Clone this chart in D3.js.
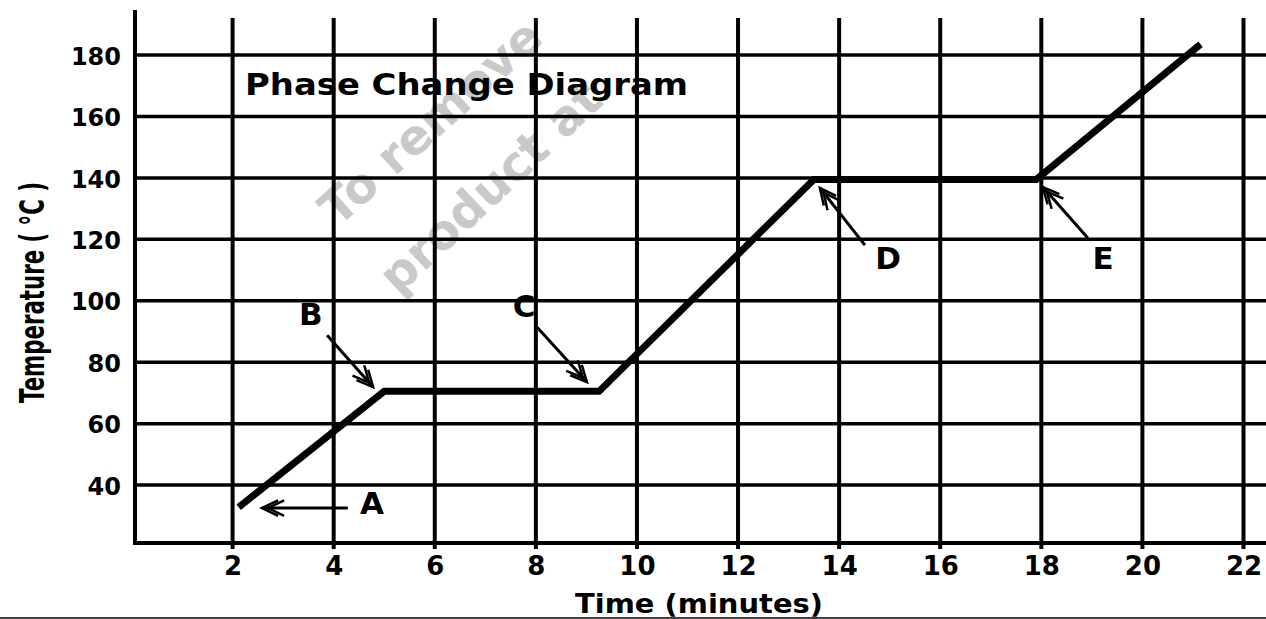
<!DOCTYPE html>
<html><head><meta charset="utf-8">
<script src="https://cdn.jsdelivr.net/npm/d3@7"></script>
<style>body{margin:0;background:#fff}svg{display:block}</style>
</head><body>
<svg id="c" width="1266" height="619"></svg>
<script>
// ---- data ----
const xTicks = [2,4,6,8,10,12,14,16,18,20,22];
const yTicks = [40,60,80,100,120,140,160,180];
const timeMin = [2.12, 5.0, 9.25, 13.5, 17.9, 21.15];
const tempC   = [32.8, 70.5, 70.5, 139.5, 139.5, 183.5];
const labelText = ["A","B","C","D","E"];
const labelX = [4.76, 3.55, 7.77, 14.97, 19.22];
const labelY = [30.6, 92.1, 94.7, 110.3, 110.3];
const arrowFromX = [4.28, 3.87, 8.02, 14.51, 18.92];
const arrowFromY = [32.5, 88.8, 91.45, 118.1, 120.4];
const arrowToX = [2.58, 4.78, 9.01, 13.62, 18.03];
const arrowToY = [32.5, 71.9, 73.55, 136.7, 137.0];
const title = "Phase Change Diagram";
const xTitle = "Time (minutes)";
const yTitle = "Temperature ( °C )";

const svg = d3.select("#c");
const x = d3.scaleLinear().domain([0,22]).range([131.5,1243.5]);
const y = d3.scaleLinear().domain([20,180]).range([546.5,55]);
const F = "'DejaVu Sans', sans-serif";

// watermark
const wm = svg.append("g").attr("fill","#c9c9c9").attr("font-family",F).attr("font-weight","bold").attr("font-size",48);
wm.append("text").attr("transform","translate(338,228) rotate(-42)").text("To remove");
wm.append("text").attr("transform","translate(398,296) rotate(-43)").text("product at");

// grid
const xMinPx = 135, rightPx = 1266;
svg.append("g").selectAll("line").data(yTicks).join("line")
  .attr("x1", xMinPx).attr("x2", rightPx)
  .attr("y1", d=>y(d)).attr("y2", d=>y(d))
  .attr("stroke","#000").attr("stroke-width",3.5);
svg.append("g").selectAll("line").data(xTicks).join("line")
  .attr("x1", d=>x(d)).attr("x2", d=>x(d))
  .attr("y1", 18).attr("y2", 549)
  .attr("stroke","#000").attr("stroke-width",4);

// axes lines
svg.append("line").attr("x1",xMinPx).attr("x2",xMinPx).attr("y1",10).attr("y2",545).attr("stroke","#000").attr("stroke-width",4);
svg.append("line").attr("x1",xMinPx-2).attr("x2",rightPx).attr("y1",543).attr("y2",543).attr("stroke","#000").attr("stroke-width",4);
// bottom frame line
svg.append("line").attr("x1",0).attr("x2",1266).attr("y1",618).attr("y2",618).attr("stroke","#000").attr("stroke-width",1.5);

// tick labels via axes
const gx = svg.append("g").attr("transform","translate(0,543)")
  .call(d3.axisBottom(x).tickValues(xTicks).tickSize(0).tickPadding(14).tickFormat(d3.format("d")));
gx.select(".domain").remove();
gx.selectAll("text").attr("font-family",F).attr("font-weight","bold").attr("font-size",26).attr("fill","#000");

const gy = svg.append("g").attr("transform","translate(121,0)")
  .call(d3.axisLeft(y).tickValues(yTicks).tickSize(0).tickPadding(0).tickFormat(d3.format("d")));
gy.select(".domain").remove();
gy.selectAll("text").attr("font-family",F).attr("font-weight","bold").attr("font-size",24).attr("fill","#000").attr("dy","0.38em");

// data line
const pts = timeMin.map((t,i)=>[t,tempC[i]]);
svg.append("path").datum(pts)
  .attr("d", d3.line().x(d=>x(d[0])).y(d=>y(d[1])))
  .attr("fill","none").attr("stroke","#000").attr("stroke-width",7).attr("stroke-linejoin","miter");

// annotations
const ann = svg.append("g");
labelText.forEach((t,i)=>{
  ann.append("text").attr("x",x(labelX[i])).attr("y",y(labelY[i]))
    .attr("text-anchor","middle").attr("font-family",F).attr("font-weight","bold").attr("font-size",31).text(t);
  const x1=x(arrowFromX[i]), y1=y(arrowFromY[i]), x2=x(arrowToX[i]), y2=y(arrowToY[i]);
  ann.append("line").attr("x1",x1).attr("y1",y1).attr("x2",x2).attr("y2",y2).attr("stroke","#000").attr("stroke-width",3);
  const ang = Math.atan2(y1-y2,x1-x2), L=18, s=0.45;
  [[0,L],[6,L]].forEach(([off,len])=>{
    const bx = x2+Math.cos(ang)*off, by = y2+Math.sin(ang)*off;
    ann.append("path")
      .attr("d",`M${bx+Math.cos(ang+s)*len},${by+Math.sin(ang+s)*len} L${bx},${by} L${bx+Math.cos(ang-s)*len},${by+Math.sin(ang-s)*len}`)
      .attr("fill","none").attr("stroke","#000").attr("stroke-width",2.5);
  });
});

// titles
svg.append("text").attr("x",245).attr("y",95).attr("font-family",F).attr("font-weight","bold").attr("font-size",30)
  .attr("textLength",443).attr("lengthAdjust","spacingAndGlyphs").text(title);
svg.append("text").attr("x",575).attr("y",613).attr("font-family",F).attr("font-weight","bold").attr("font-size",27)
  .attr("textLength",248).attr("lengthAdjust","spacingAndGlyphs").text(xTitle);
svg.append("text").attr("transform","translate(44,403) rotate(-90)").attr("font-family",F).attr("font-weight","bold").attr("font-size",34)
  .attr("textLength",221).attr("lengthAdjust","spacingAndGlyphs").text(yTitle);
</script>
</body></html>
